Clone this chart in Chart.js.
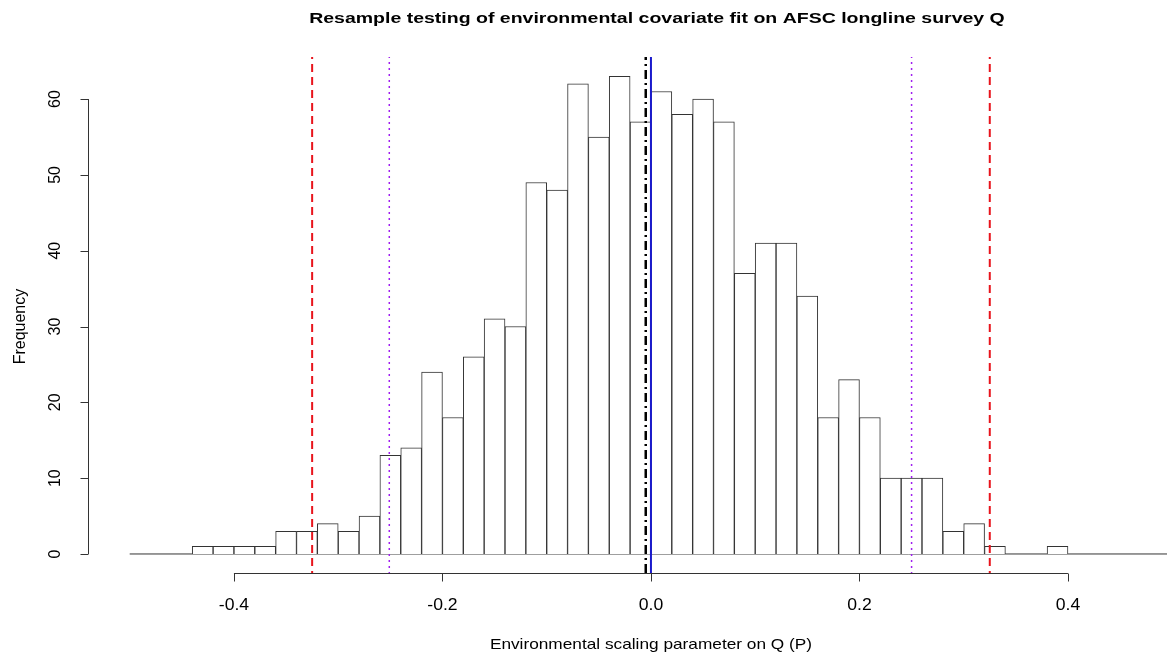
<!DOCTYPE html>
<html>
<head>
<meta charset="utf-8">
<script src="https://cdn.jsdelivr.net/npm/chart.js@4/dist/chart.umd.min.js"></script>
<style>
  html, body { margin: 0; padding: 0; background: #fff; }
  #wrap { width: 1167px; height: 656px; }
</style>
</head>
<body>
<div id="wrap"><canvas id="histQ"></canvas></div>
<script>
// bin left edges (width 0.02) and counts
var binStart = -0.44;
var binWidth = 0.02;
var counts = [1, 1, 1, 1, 3, 3, 4, 3, 5, 13, 14, 24, 18, 26, 31, 30, 49, 48, 62, 55, 63,
              57, 61, 58, 60, 57, 37, 41, 41, 34, 18, 23, 18, 10, 10, 10, 3, 4, 1, 0, 0, 1];

// reference lines
var redLines = [-0.325, 0.325];
var purpleLines = [-0.251, 0.25];
var meanLine = -0.005;
var zeroLine = 0.0;
var baseline = [-0.5, 0.5];

var xTicks = [-0.4, -0.2, 0.0, 0.2, 0.4];
var yTicks = [0, 10, 20, 30, 40, 50, 60];

var titleText = 'Resample testing of environmental covariate fit on AFSC longline survey Q';
var xTitle = 'Environmental scaling parameter on Q (P)';
var yTitle = 'Frequency';

var histData = [];
for (i = 0; i < counts.length; i++) {
	histData.push({ x: binStart + binWidth * (i + 0.5), y: counts[i] });
}

function vline(v) {
	return [{ x: v, y: -5 }, { x: v, y: 80 }];
}

var FONT = '"Liberation Sans", Arial, sans-serif';

// text helper, sx stretches horizontally like the original png
function txt(c, s, x, y, font, sx, rot) {
	c.save();
	c.font = font;
	c.translate(x, y);
	c.scale(sx, 1);
	if (rot) c.rotate(-Math.PI / 2);
	c.fillText(s, 0, 0);
	c.restore();
}

// R style axes, title and axis titles
var rAxes = {
	id: 'rAxes',
	afterDraw: function(chart) {
		var c = chart.ctx;
		var xs = chart.scales.x, ys = chart.scales.y;
		var area = chart.chartArea;
		c.save();
		c.strokeStyle = '#333';
		c.fillStyle = '#000';
		c.lineWidth = 1;
		c.textAlign = 'center';
		c.textBaseline = 'alphabetic';

		txt(c, titleText, xs.getPixelForValue(0) + 6, 23, 'bold 15px ' + FONT, 1.3, false);

		// x axis
		var ax = area.bottom + 0.5;
		c.beginPath();
		c.moveTo(xs.getPixelForValue(xTicks[0]), ax);
		c.lineTo(xs.getPixelForValue(xTicks[xTicks.length - 1]), ax);
		xTicks.forEach(function(t) {
			var px = Math.round(xs.getPixelForValue(t)) + 0.5;
			c.moveTo(px, ax);
			c.lineTo(px, ax + 8);
		});
		c.stroke();
		xTicks.forEach(function(t) {
			txt(c, t.toFixed(1), xs.getPixelForValue(t), 610, '16px ' + FONT, 1.1, false);
		});
		txt(c, xTitle, xs.getPixelForValue(0), 649, '15px ' + FONT, 1.15, false);

		// y axis
		var ay = area.left + 0.5;
		c.beginPath();
		c.moveTo(ay, ys.getPixelForValue(yTicks[0]));
		c.lineTo(ay, ys.getPixelForValue(yTicks[yTicks.length - 1]));
		yTicks.forEach(function(t) {
			var py = Math.round(ys.getPixelForValue(t)) + 0.5;
			c.moveTo(ay, py);
			c.lineTo(ay - 8, py);
		});
		c.stroke();
		yTicks.forEach(function(t) {
			txt(c, String(t), 60, ys.getPixelForValue(t), '16px ' + FONT, 1, true);
		});
		txt(c, yTitle, 25, ys.getPixelForValue(30), '16px ' + FONT, 1, true);
		c.restore();
	}
};

var ctx = document.getElementById('histQ').getContext('2d');
var chart = new Chart(ctx, {
	type: 'bar',
	data: {
		datasets: [{
			type: 'bar',
			label: 'Frequency',
			data: histData,
			backgroundColor: '#ffffff',
			borderColor: '#333333',
			borderWidth: 1,
			barPercentage: 1,
			categoryPercentage: 1,
			order: 5
		}, {
			type: 'line',
			data: [{ x: baseline[0], y: 0 }, { x: baseline[1], y: 0 }],
			borderColor: '#333333',
			borderWidth: 1,
			pointRadius: 0,
			order: 6
		}, {
			type: 'line',
			data: vline(redLines[0]),
			borderColor: '#e8141c',
			borderWidth: 2,
			borderDash: [8, 5],
			pointRadius: 0,
			order: 1
		}, {
			type: 'line',
			data: vline(redLines[1]),
			borderColor: '#e8141c',
			borderWidth: 2,
			borderDash: [8, 5],
			pointRadius: 0,
			order: 1
		}, {
			type: 'line',
			data: vline(purpleLines[0]),
			borderColor: '#a020f0',
			borderWidth: 1.5,
			borderDash: [2, 4],
			pointRadius: 0,
			order: 1
		}, {
			type: 'line',
			data: vline(purpleLines[1]),
			borderColor: '#a020f0',
			borderWidth: 1.5,
			borderDash: [2, 4],
			pointRadius: 0,
			order: 1
		}, {
			type: 'line',
			data: vline(meanLine),
			borderColor: '#000000',
			borderWidth: 2.5,
			borderDash: [9, 4, 2, 4],
			pointRadius: 0,
			order: 1
		}, {
			type: 'line',
			data: vline(zeroLine),
			borderColor: '#1a1acc',
			borderWidth: 2,
			pointRadius: 0,
			order: 0
		}]
	},
	options: {
		responsive: true,
		maintainAspectRatio: false,
		animation: false,
		layout: {
			padding: { left: 88, right: 0, top: 57, bottom: 83 }
		},
		scales: {
			x: {
				type: 'linear',
				display: false,
				offset: false,
				min: -0.540,
				max: 0.495
			},
			y: {
				display: false,
				min: -2.51,
				max: 65.55
			}
		},
		plugins: {
			legend: { display: false },
			tooltip: { enabled: false },
			title: { display: false }
		}
	},
	plugins: [rAxes]
});
</script>
</body>
</html>
